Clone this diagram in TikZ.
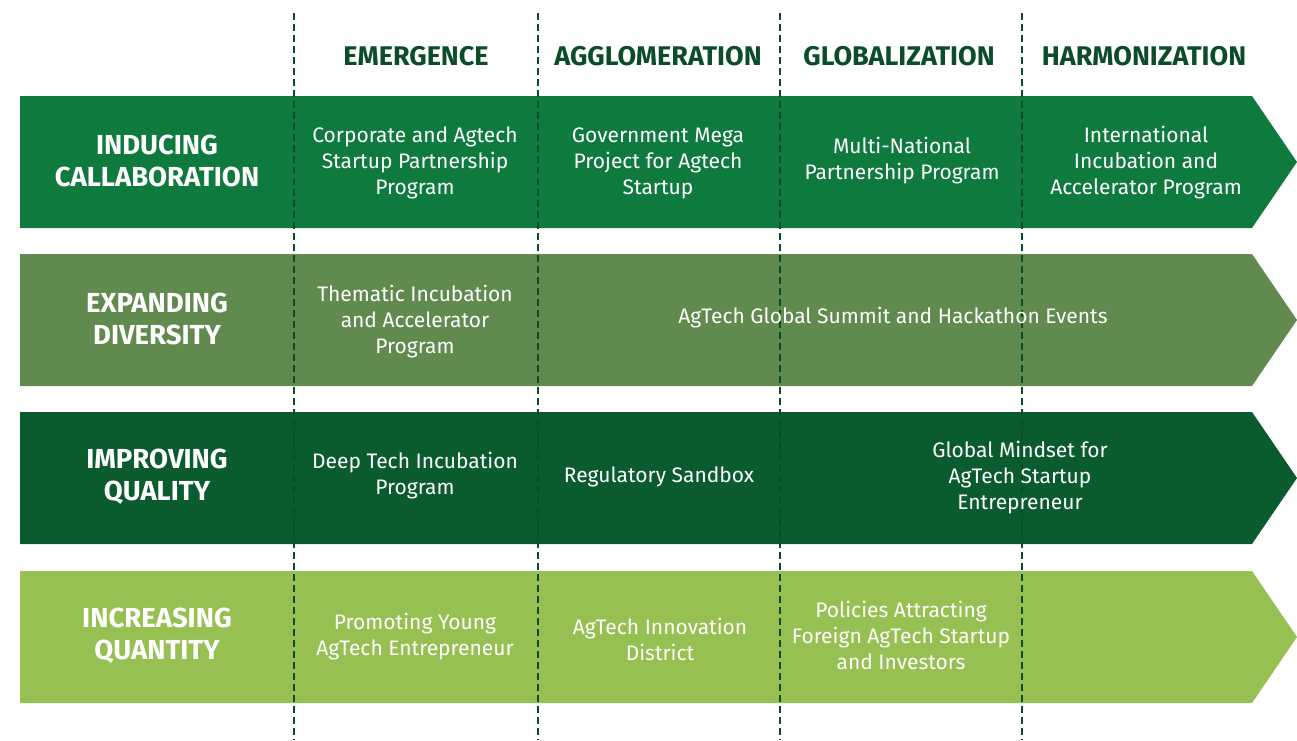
\documentclass[tikz,border=0pt]{standalone}
\usepackage{fontspec}
\setmainfont{Fira Sans}
\usetikzlibrary{positioning}
\definecolor{bandA}{HTML}{0F7A3E}
\definecolor{bandB}{HTML}{608A4E}
\definecolor{bandC}{HTML}{0A5C2E}
\definecolor{bandD}{HTML}{96C052}
\definecolor{darkgreen}{HTML}{0B4D29}
\begin{document}
\begin{tikzpicture}[x=1pt, y=-1pt,
phase/.style = {font=\fontsize{27}{32}\selectfont\bfseries, text=darkgreen, inner sep=0pt},
theme/.style = {font=\fontsize{27.5}{32}\selectfont\bfseries, text=white, align=center, inner sep=0pt},
item/.style = {font=\fontsize{21}{26}\selectfont, text=white, align=center, inner sep=0pt},
divider/.style = {draw=darkgreen, line width=2.6pt, dash pattern=on 6.5pt off 4.5pt}]
\useasboundingbox (0,0) rectangle (1297,740);
% arrow bands
\foreach \top/\col in {96/bandA, 254/bandB, 412/bandC, 571/bandD}
  \fill[\col] (20,\top) -- (1252,\top) -- (1297,\top+66) -- (1252,\top+132) -- (20,\top+132) -- cycle;
% phase dividers
\foreach \x in {294, 538, 780, 1022}
  \draw[divider] (\x,13) -- (\x,740);
% phases
\node[phase] (emergence) at (416,56) {EMERGENCE};
\node[phase] (agglomeration) at (658,56) {AGGLOMERATION};
\node[phase] (globalization) at (899,56) {GLOBALIZATION};
\node[phase] (harmonization) at (1144,56) {HARMONIZATION};
% themes
\node[theme] (collab) at (157,161) {INDUCING\\CALLABORATION};
\node[theme] (diversity) at (157,319) {EXPANDING\\DIVERSITY};
\node[theme] (quality) at (157,477) {IMPROVING\\QUALITY};
\node[theme] (quantity) at (157,636) {INCREASING\\QUANTITY};
% programs
\begin{scope}[every node/.style={item}]
\node (corporate) at (415,163) {Corporate and Agtech\\Startup Partnership\\Program};
\node (mega) at (658,163) {Government Mega\\Project for Agtech\\Startup};
\node (multinational) at (902,161) {Multi-National\\Partnership Program};
\node (international) at (1146,163) {International\\Incubation and\\Accelerator Program};
\node (thematic) at (415,322) {Thematic Incubation\\and Accelerator\\Program};
\node (summit) at (893,318) {AgTech Global Summit and Hackathon Events};
\node (deeptech) at (415,476) {Deep Tech Incubation\\Program};
\node (sandbox) at (659,477) {Regulatory Sandbox};
\node (mindset) at (1020,478) {Global Mindset for\\AgTech Startup\\Entrepreneur};
\node (young) at (415,637) {Promoting Young\\AgTech Entrepreneur};
\node (district) at (660,639) {AgTech Innovation\\District};
\node (policies) at (901,635) {Policies Attracting\\Foreign AgTech Startup\\and Investors};
\end{scope}
\end{tikzpicture}
\end{document}
